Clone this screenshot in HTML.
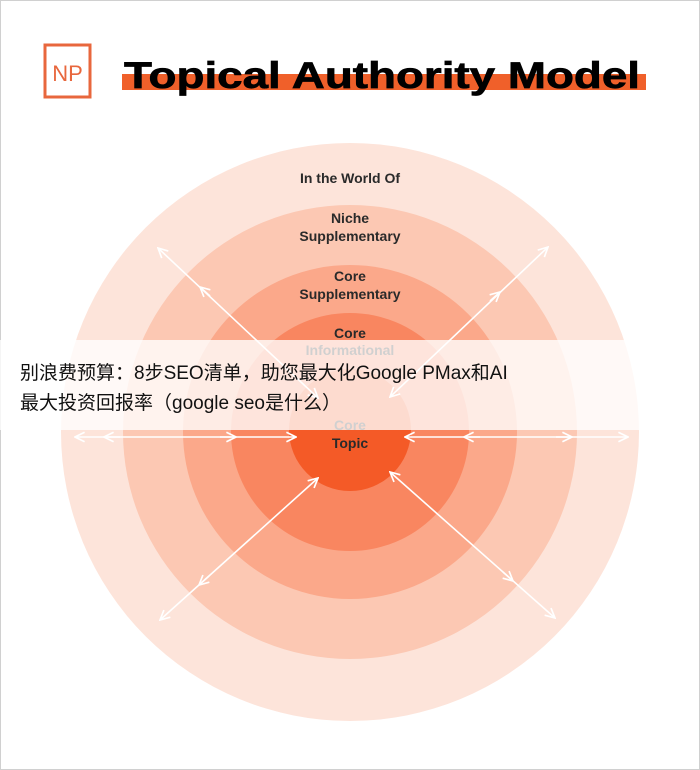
<!DOCTYPE html>
<html><head><meta charset="utf-8"><style>
html,body{margin:0;padding:0;background:#fff}
body{width:700px;height:770px;position:relative;overflow:hidden;font-family:"Liberation Sans","Noto Sans CJK SC",sans-serif}
.frame{position:absolute;left:0;top:0;width:698px;height:768px;border:1px solid #d0d0d0}
.band{position:absolute;left:0;top:340px;width:643px;height:90px;background:rgba(255,255,255,0.78)}
.cap{position:absolute;left:20px;font-size:19px;color:#111;font-family:"Liberation Sans","Noto Sans CJK SC",sans-serif;white-space:nowrap}
</style></head><body>
<div class="frame"></div>
<svg width="700" height="770" style="position:absolute;left:0;top:0">
<defs>
<marker id="a" viewBox="0 0 10 10" refX="9" refY="5" markerWidth="12" markerHeight="12" orient="auto-start-reverse" markerUnits="userSpaceOnUse"><path d="M1,1 L9,5 L1,9" fill="none" stroke="#fff" stroke-width="1.4"/></marker>
</defs>
<rect x="45" y="45" width="45" height="52" fill="none" stroke="#e8673d" stroke-width="3"/>
<text x="67.5" y="81" font-size="22" fill="#e8673d" text-anchor="middle" font-family="Liberation Sans">NP</text>
<rect x="122" y="74" width="524" height="16" fill="#f0602a"/>
<text x="124" y="88" font-size="37" font-weight="bold" fill="#000" stroke="#000" stroke-width="0.7" font-family="Liberation Sans" textLength="516" lengthAdjust="spacingAndGlyphs">Topical Authority Model</text>
<circle cx="350" cy="432" r="289" fill="#fde4da"/>
<circle cx="350" cy="432" r="227" fill="#fcc8b3"/>
<circle cx="350" cy="432" r="167" fill="#fba88a"/>
<circle cx="350" cy="432" r="119" fill="#f98660"/>
<circle cx="350" cy="430" r="61" fill="#f45a27"/>
<g font-family="Liberation Sans" font-weight="bold" font-size="14" fill="#2a2a2a" text-anchor="middle">
<text x="350" y="183">In the World Of</text>
<text x="350" y="223">Niche</text><text x="350" y="241">Supplementary</text>
<text x="350" y="281">Core</text><text x="350" y="299">Supplementary</text>
<text x="350" y="338">Core</text><text x="350" y="355">Informational</text>
<text x="350" y="430">Core</text><text x="350" y="448">Topic</text>
</g>
<g stroke="#fff" stroke-width="1.6" fill="none">
<line x1="75" y1="437" x2="296" y2="437" marker-start="url(#a)" marker-end="url(#a)"/>
<line x1="405" y1="437" x2="628" y2="437" marker-start="url(#a)" marker-end="url(#a)"/>
<line x1="158" y1="248" x2="318" y2="398" marker-start="url(#a)" marker-end="url(#a)"/>
<line x1="548" y1="247" x2="390" y2="397" marker-start="url(#a)" marker-end="url(#a)"/>
<line x1="160" y1="620" x2="318" y2="478" marker-start="url(#a)" marker-end="url(#a)"/>
<line x1="555" y1="618" x2="390" y2="472" marker-start="url(#a)" marker-end="url(#a)"/>
<line x1="120" y1="437" x2="104" y2="437" marker-end="url(#a)"/>
<line x1="220" y1="437" x2="236" y2="437" marker-end="url(#a)"/>
<line x1="480" y1="437" x2="464" y2="437" marker-end="url(#a)"/>
<line x1="556" y1="437" x2="572" y2="437" marker-end="url(#a)"/>
<line x1="210" y1="296" x2="200" y2="287" marker-end="url(#a)"/>
<line x1="490" y1="301" x2="500" y2="292" marker-end="url(#a)"/>
<line x1="209" y1="576" x2="199" y2="585" marker-end="url(#a)"/>
<line x1="503" y1="572" x2="513" y2="581" marker-end="url(#a)"/>
</g>
</svg>
<div class="band"></div>
<div class="cap" style="top:358px">别浪费预算：8步SEO清单，助您最大化Google PMax和AI</div>
<div class="cap" style="top:388px">最大投资回报率（google seo是什么）</div>
</body></html>
